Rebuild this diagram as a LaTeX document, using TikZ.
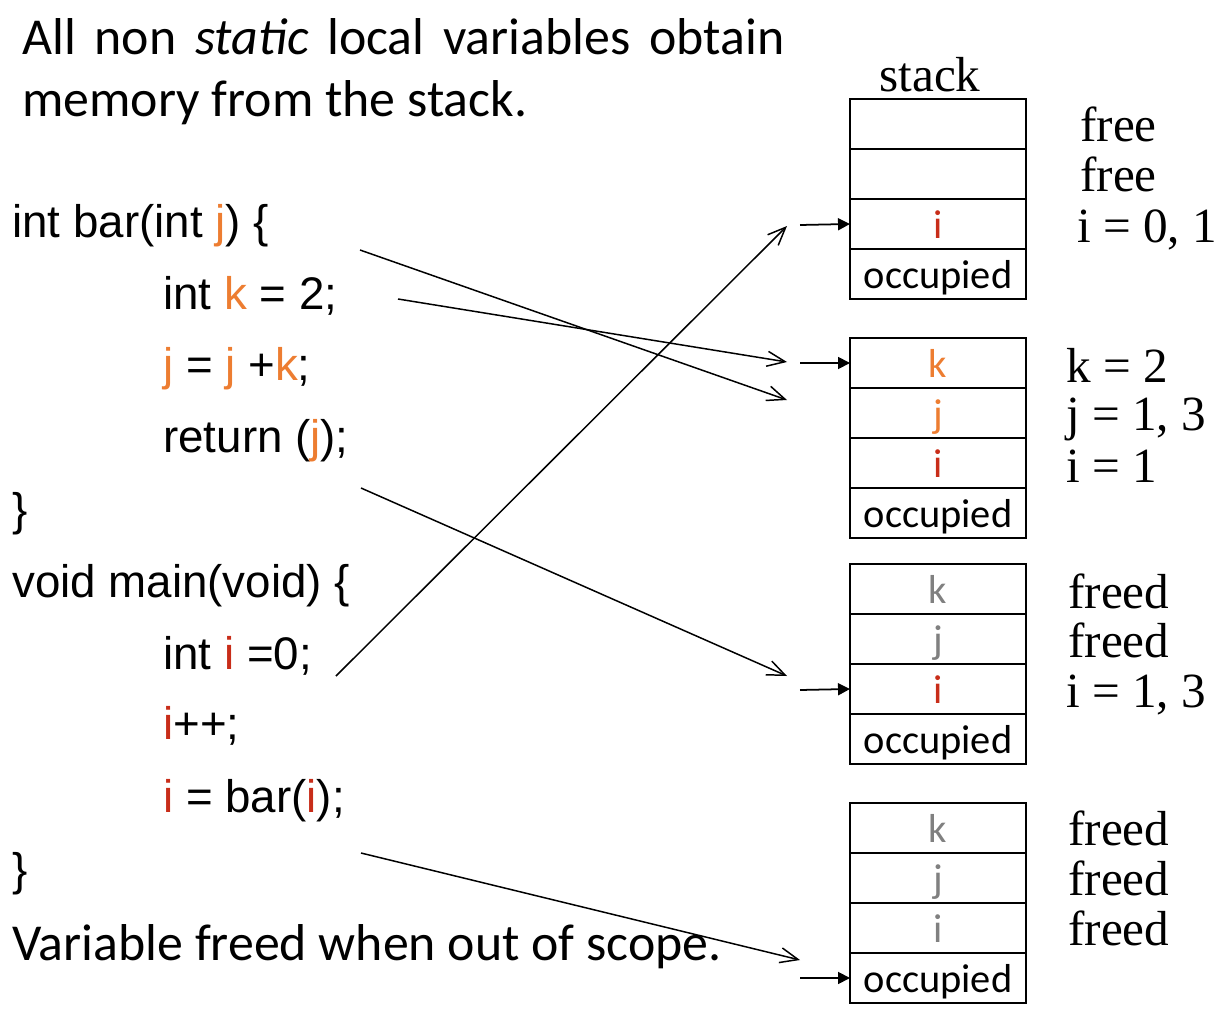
\documentclass[tikz,border=0pt]{standalone}
\usepackage{fontspec}
\usetikzlibrary{positioning,arrows.meta}
\newfontfamily\headfont{Carlito}
\newfontfamily\codefont{Liberation Sans}
\newfontfamily\labelfont{Liberation Serif}
\definecolor{varjk}{RGB}{237,125,49}
\definecolor{vari}{RGB}{200,45,25}
\definecolor{varfree}{RGB}{128,128,128}

\begin{document}
\begin{tikzpicture}[x=0.02cm, y=-0.02cm,
    heading/.style={anchor=base west, inner sep=0pt, font=\headfont\fontsize{29.5}{36}\selectfont},
    code/.style={anchor=base west, inner sep=0pt, font=\codefont\fontsize{26}{31}\selectfont},
    note/.style={anchor=base west, inner sep=0pt, font=\labelfont\fontsize{28}{33}\selectfont},
    cell/.style={draw, line width=1.1pt, outer sep=0pt, inner sep=0pt,
      minimum width=3.52cm, minimum height=1cm, text height=20pt, text depth=3pt,
      font=\headfont\fontsize{23}{27}\selectfont},
    link/.style={line width=0.85pt, -{Straight Barb[length=0.36cm, width=0.3cm]}},
    push/.style={line width=1pt, -{Triangle[length=0.24cm, width=0.24cm]}}]

    \useasboundingbox (0,0) rectangle (1222,1010);

    % heading
    \node[heading] (h1) at (22,55) {\spaceskip=0.36em All non \textit{static} local variables obtain};
    \node[heading] (h2) at (22,117) {memory from the stack.};

    % code
    \node[code] (l1) at (12,237) {int bar(int {\color{varjk}j}) \{};
    \node[code] (l2) at (163,309) {int {\color{varjk}k} = 2;};
    \node[code] (l3) at (163,380) {{\color{varjk}j} = {\color{varjk}j} +{\color{varjk}k};};
    \node[code] (l4) at (163,452) {return ({\color{varjk}j});};
    \node[code] (l5) at (12,525) {\}};
    \node[code] (l6) at (12,597) {void main(void) \{};
    \node[code] (l7) at (163,669) {int {\color{vari}i} =0;};
    \node[code] (l8) at (163,739) {{\color{vari}i}++;};
    \node[code] (l9) at (163,812) {{\color{vari}i} = bar({\color{vari}i});};
    \node[code] (l10) at (12,885) {\}};
    \node[heading] (foot) at (12,960) {Variable freed when out of scope.};

    % stacks
    \node[note, anchor=base] (stk) at (930,92) {stack};

    \node[cell] (a1) at (938,124) {};
    \node[cell, below=0pt of a1] (a2) {};
    \node[cell, below=0pt of a2] (a3) {\color{vari}i};
    \node[cell, below=0pt of a3] (a4) {occupied};

    \node[cell] (b1) at (938,363) {\color{varjk}k};
    \node[cell, below=0pt of b1] (b2) {\color{varjk}j};
    \node[cell, below=0pt of b2] (b3) {\color{vari}i};
    \node[cell, below=0pt of b3] (b4) {occupied};

    \node[cell] (c1) at (938,589) {\color{varfree}k};
    \node[cell, below=0pt of c1] (c2) {\color{varfree}j};
    \node[cell, below=0pt of c2] (c3) {\color{vari}i};
    \node[cell, below=0pt of c3] (c4) {occupied};

    \node[cell] (d1) at (938,828) {\color{varfree}k};
    \node[cell, below=0pt of d1] (d2) {\color{varfree}j};
    \node[cell, below=0pt of d2] (d3) {\color{varfree}i};
    \node[cell, below=0pt of d3] (d4) {occupied};

    % values
    \node[note] (va1) at (1080,142) {free};
    \node[note] (va2) at (1080,192) {free};
    \node[note] (va3) at (1077,242) {i = 0, 1};
    \node[note] (vb1) at (1066,382) {k = 2};
    \node[note] (vb2) at (1066,430) {j = 1, 3};
    \node[note] (vb3) at (1066,482) {i = 1};
    \node[note] (vc1) at (1068,608) {freed};
    \node[note] (vc2) at (1068,657) {freed};
    \node[note] (vc3) at (1066,707) {i = 1, 3};
    \node[note] (vd1) at (1068,845) {freed};
    \node[note] (vd2) at (1068,895) {freed};
    \node[note] (vd3) at (1068,945) {freed};

    % stack pointers
    \coordinate (pa) at (800,225);
    \coordinate (pb) at (800,363);
    \coordinate (pc) at (800,690);
    \coordinate (pd) at (800,978);
    \draw[push] (pa) -- (a3.west);
    \draw[push] (pb) -- (b1.west);
    \draw[push] (pc) -- (c3.west);
    \draw[push] (pd) -- (d4.west);

    % code to stack
    \coordinate (sj) at (360,250);
    \coordinate (ej) at (787,400);
    \coordinate (sk) at (398,299);
    \coordinate (ek) at (787,362);
    \coordinate (sr) at (361,488);
    \coordinate (er) at (787,676);
    \coordinate (si) at (336,676);
    \coordinate (ei) at (787,226);
    \coordinate (sb) at (361,853);
    \coordinate (eb) at (800,960);
    \draw[link] (sj) -- (ej);
    \draw[link] (sk) -- (ek);
    \draw[link] (sr) -- (er);
    \draw[link] (si) -- (ei);
    \draw[link] (sb) -- (eb);
\end{tikzpicture}
\end{document}
